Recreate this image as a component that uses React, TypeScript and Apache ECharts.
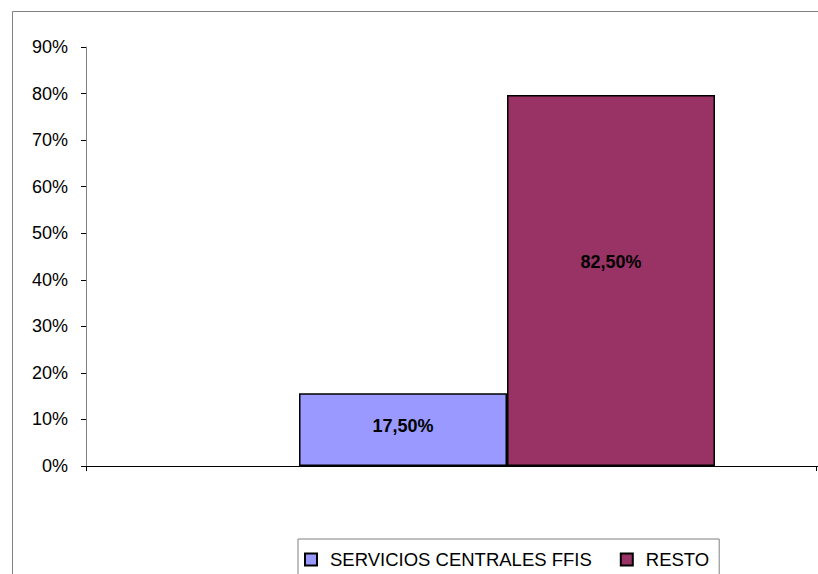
import React, { useEffect, useRef } from "react";
import * as echarts from "echarts";

const categories = [""];
const seriesNames = ["SERVICIOS CENTRALES FFIS", "RESTO"];
const seriesValues = [[0.156], [0.797]];
const labelTexts = ["17,50%", "82,50%"];
const seriesColors = ["#9999FF", "#993366"];
const yTicks = { min: 0, max: 0.9, interval: 0.1 };

export default function App() {
  const ref = useRef<HTMLDivElement>(null);
  useEffect(() => {
    document.body.style.margin = "0";
    const chart = echarts.init(ref.current!, null, { renderer: "svg" });
    const font = "Liberation Sans, Arial, sans-serif";
    chart.setOption({
      animation: false,
      backgroundColor: "#ffffff",
      grid: {
        left: 86,
        top: 47,
        width: 842,
        height: 419,
        containLabel: false,
        outerBoundsMode: "none",
      },
      xAxis: {
        type: "category",
        data: categories,
        boundaryGap: true,
        axisLine: { show: true, lineStyle: { color: "#000000", width: 1 } },
        axisTick: { show: true, length: 5, lineStyle: { color: "#000000" } },
        axisLabel: { show: false },
        splitLine: { show: false },
      },
      yAxis: {
        type: "value",
        min: yTicks.min,
        max: yTicks.max,
        interval: yTicks.interval,
        axisLine: { show: true, lineStyle: { color: "#808080", width: 1 } },
        axisTick: { show: true, length: 5, lineStyle: { color: "#000000" } },
        axisLabel: {
          margin: 18,
          color: "#000000",
          fontFamily: font,
          fontSize: 18,
          formatter: (v: number) => `${Math.round(v * 100)}%`,
        },
        splitLine: { show: false },
      },
      legend: {
        left: 298,
        top: 539,
        padding: [11, 10, 24, 6],
        borderColor: "#808080",
        borderWidth: 1,
        itemWidth: 12,
        itemHeight: 12,
        itemGap: 28,
        icon: "rect",
        textStyle: {
          color: "#000000",
          fontFamily: font,
          fontSize: 18.5,
          padding: [0, 0, 0, 8],
        },
        data: seriesNames,
      },
      graphic: [
        {
          type: "rect",
          left: 10,
          top: 9,
          shape: { width: 1000, height: 1000 },
          style: { fill: "none", stroke: "#808080", lineWidth: 1 },
          silent: true,
          z: -10,
        },
        {
          type: "line",
          shape: { x1: 816.5, y1: 466, x2: 816.5, y2: 471 },
          style: { stroke: "#000000", lineWidth: 1 },
          silent: true,
        },
      ],
      series: seriesNames.map((name, i) => ({
        name,
        type: "bar",
        data: seriesValues[i],
        barWidth: 208,
        barGap: "0%",
        itemStyle: {
          color: seriesColors[i],
          borderColor: "#000000",
          borderWidth: 1.5,
        },
        label: {
          show: true,
          position: ["50%", "45%"],
          align: "center",
          verticalAlign: "middle",
          formatter: () => labelTexts[i],
          color: "#000000",
          fontFamily: font,
          fontSize: 18,
          fontWeight: "bold",
        },
      })),
    });
    return () => chart.dispose();
  }, []);
  return <div ref={ref} style={{ width: 818, height: 574 }} />;
}
